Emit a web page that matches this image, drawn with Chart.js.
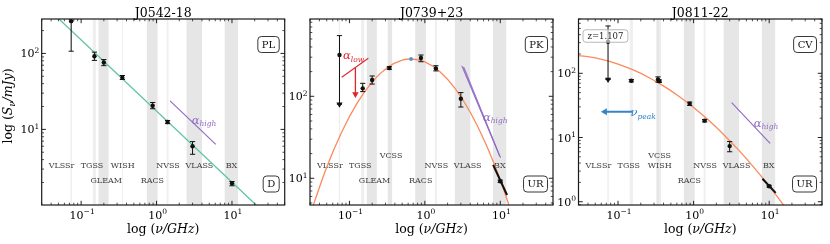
<!DOCTYPE html>
<html><head><meta charset="utf-8">
<script src="https://cdn.jsdelivr.net/npm/chart.js@4.4.1/dist/chart.umd.min.js"></script>
<style>
html,body{margin:0;padding:0;background:#fff;overflow:hidden;}
#wrap{position:relative;width:830px;height:244px;background:#fff;}
#wrap canvas{position:absolute;left:0;top:0;}
</style></head><body>
<div id="wrap">
<canvas id="c1" width="830" height="244"></canvas>
<canvas id="c2" width="830" height="244"></canvas>
<canvas id="c3" width="830" height="244"></canvas>
</div>
<script>
// ================= DATA =================
const xLimits = [0.03, 50];                       // GHz
const surveyNames  = ['VLSSr','TGSS','GLEAM','WISH','VCSS','RACS','NVSS','VLASS','BX'];
const surveyBandLo = [0.0721, 0.143, 0.17, 0.347, 0.322, 0.744, 1.36, 2.5, 8];
const surveyBandHi = [0.0755, 0.157, 0.231, 0.357, 0.368, 1.032, 1.44, 4.0, 12];
const surveyThin   = [true, true, false, true, false, false, true, false, false];

// ---- Panel 1: J0542-18 ----
const p1Title  = 'J0542-18';
const p1YLim   = [1.01, 284];
const p1Freq   = [0.0738, 0.15, 0.2, 0.352, 0.8875, 1.4, 3.0, 10.0];
const p1Flux   = [266, 92, 76, 48, 20.5, 12.5, 6.0, 1.95];
const p1ErrLo  = [107, 81, 69, 45.4, 18.7, 11.9, 4.7, 1.81];
const p1ErrHi  = [600, 104, 83, 51.2, 22.6, 13.1, 6.9, 2.06];
const p1FitFreq  = [0.0251, 56.2];
const p1FitFlux  = [550, 0.40];
const p1HighFreq = [1.51, 6.1];
const p1HighFlux = [23.7, 6.34];

// ---- Panel 2: J0739+23 ----
const p2Title  = 'J0739+23';
const p2YLim   = [4.72, 877];
const p2Freq   = [0.0738, 0.15, 0.2, 0.338, 0.8875, 1.4, 3.0, 10.0];
const p2Flux   = [319, 125, 158, 221, 293, 219, 93.5, 9.2];
const p2ErrLo  = [80, 114, 141, 213, 264, 204, 74, 8.9];
const p2ErrHi  = [550, 144, 177, 230, 319, 236, 111, 9.5];
const p2LimFreq = [0.0738];
const p2LimFlux = [80];
const p2PeakFreq = [0.656];
const p2PeakFlux = [285];
const p2FitFreq = [0.0282,0.0501,0.0794,0.1259,0.1995,0.3162,0.5012,0.656,1,1.585,2.512,3.981,6.31,10,15.85];
const p2FitFlux = [3.04,13.76,36.98,81.8,148.9,223.4,275.8,285.1,262.9,199.6,124.9,64.3,27.3,9.52,2.74];
const p2LowFreq = [0.079, 0.178];
const p2LowFlux = [171, 291];
const p2LowArrowFreq = [0.12, 0.12];
const p2LowArrowFlux = [223, 106];
const p2LowHeadFreq = [0.12];
const p2LowHeadFlux = [106];
const p2BxFreq  = [8.03, 12.3];
const p2BxFlux  = [14.6, 6.25];
const p2HighAFreq = [3.08, 9.8];
const p2HighAFlux = [236, 18.6];
const p2HighBFreq = [3.18, 9.94];
const p2HighBFlux = [231, 18.2];
const p2HighCFreq = [3.30, 10.1];
const p2HighCFlux = [226, 17.8];

// ---- Panel 3: J0811-22 ----
const p3Title  = 'J0811-22';
const p3YLim   = [0.889, 701];
const p3Freq   = [0.0738, 0.15, 0.338, 0.352, 0.8875, 1.4, 3.0, 10.0];
const p3Flux   = [310, 76.7, 80, 75.5, 33.6, 18.3, 7.35, 1.74];
const p3ErrLo  = [80, 73.5, 73, 72, 31.6, 17.5, 6.0, 1.68];
const p3ErrHi  = [546, 80, 88, 79, 35.7, 19.1, 8.65, 1.80];
const p3LimFreq = [0.0738];
const p3LimFlux = [80];
const p3FitFreq = [0.0251,0.0398,0.0631,0.1,0.1585,0.2512,0.3981,0.631,1,1.585,2.512,3.981,6.31,10,15.85,25.1];
const p3FitFlux = [192,181.6,163,139,112.7,86.9,63.7,44.4,29.4,18.5,11.07,6.30,3.40,1.75,0.855,0.397];
const p3BxFreq  = [8.15, 12.2];
const p3BxFlux  = [2.28, 1.37];
const p3HighFreq = [3.19, 10.3];
const p3HighFlux = [34.8, 8.07];
const p3PeakArrowFreq = [0.154, 0.07];
const p3PeakArrowFlux = [25.2, 25.2];
const p3PeakHeadFreq = [0.067];
const p3PeakHeadFlux = [25.2];
const p3Redshift = 'z=1.107';

// ================= STYLE / LAYOUT =================
const FONT = "'DejaVu Serif', 'Liberation Serif', serif";
const C_GREEN = '#5fc4a2', C_ORANGE = '#fb8a5c', C_PURPLE = '#8f68c4', C_RED = '#e0262b', C_BLUE = '#3584c6';
const labelGHz = {VLSSr:0.055, TGSS:0.139, GLEAM:0.215, WISH:0.356, VCSS:0.356, RACS:0.88, NVSS:1.42, VLASS:3.7, BX:9.85};
const rowY = [137.3, 147, 161.7];

const pts = (f, s) => f.map((v, i) => ({x: v, y: s[i]}));
const lineDs = (f, s, color, w, extra) => Object.assign({data: pts(f, s), showLine: true, borderColor: color, borderWidth: w, pointRadius: 0, fill: false}, extra || {});
const markDs = (f, s, color, r, style, rot) => ({data: pts(f, s), showLine: false, pointRadius: r, pointStyle: style || 'circle', pointRotation: rot || 0, pointBackgroundColor: color, pointBorderColor: color, pointBorderWidth: 0});

function rich(ctx, parts, x, y, align, color) {
  let w = 0;
  for (const p of parts) { ctx.font = (p.it ? 'italic ' : '') + p.px + 'px ' + FONT; p._w = ctx.measureText(p.t).width; w += p._w; }
  let cx = align === 'center' ? x - w / 2 : (align === 'right' ? x - w : x);
  ctx.textAlign = 'left'; ctx.textBaseline = 'alphabetic';
  for (const p of parts) {
    ctx.font = (p.it ? 'italic ' : '') + p.px + 'px ' + FONT;
    ctx.fillStyle = p.c || color || '#000';
    ctx.fillText(p.t, cx, y + (p.dy || 0));
    cx += p._w;
  }
  return w;
}
function rrect(ctx, x, y, w, h, r) {
  ctx.beginPath();
  ctx.moveTo(x + r, y); ctx.lineTo(x + w - r, y); ctx.quadraticCurveTo(x + w, y, x + w, y + r);
  ctx.lineTo(x + w, y + h - r); ctx.quadraticCurveTo(x + w, y + h, x + w - r, y + h);
  ctx.lineTo(x + r, y + h); ctx.quadraticCurveTo(x, y + h, x, y + h - r);
  ctx.lineTo(x, y + r); ctx.quadraticCurveTo(x, y, x + r, y); ctx.closePath();
}
function logTicks(min, max) {
  const out = [];
  for (let k = Math.floor(Math.log10(min)); k <= Math.ceil(Math.log10(max)); k++)
    for (let m = 1; m < 10; m++) {
      const v = m * Math.pow(10, k);
      if (v >= min * 0.9999 && v <= max * 1.0001) out.push({v, major: m === 1, k});
    }
  return out;
}
const expStr = k => (k < 0 ? '\u2212' + (-k) : String(k));

function panelPlugin(cfg) {
  return {
    id: 'panel_' + cfg.name,
    beforeDatasetsDraw(chart) {
      const {ctx, chartArea: a, scales: {x}} = chart;
      ctx.save();
      ctx.beginPath(); ctx.rect(a.left, a.top, a.right - a.left, a.bottom - a.top); ctx.clip();
      cfg.bands.forEach(n => {
        const i = surveyNames.indexOf(n);
        const x0 = x.getPixelForValue(surveyBandLo[i]), x1 = x.getPixelForValue(surveyBandHi[i]);
        ctx.fillStyle = surveyThin[i] ? '#efefef' : '#e6e6e6';
        ctx.fillRect(x0, a.top, x1 - x0, a.bottom - a.top);
      });
      ctx.fillStyle = '#404040'; ctx.font = '8px ' + FONT; ctx.textAlign = 'center'; ctx.textBaseline = 'middle';
      Object.keys(cfg.rows).forEach(n => {
        ctx.fillText(n, x.getPixelForValue(labelGHz[n]), a.top + rowY[cfg.rows[n]]);
      });
      ctx.restore();
    },
    afterDatasetsDraw(chart) {
      const {ctx, chartArea: a, scales: {x, y}} = chart;
      ctx.save();
      ctx.beginPath(); ctx.rect(a.left, a.top, a.right - a.left, a.bottom - a.top); ctx.clip();
      // error bars
      ctx.strokeStyle = '#111'; ctx.lineWidth = 1;
      cfg.err.f.forEach((f, i) => {
        const px = x.getPixelForValue(f), y0 = y.getPixelForValue(cfg.err.lo[i]), y1 = y.getPixelForValue(cfg.err.hi[i]);
        ctx.beginPath();
        ctx.moveTo(px, y0); ctx.lineTo(px, y1);
        ctx.moveTo(px - 2.6, y0); ctx.lineTo(px + 2.6, y0);
        ctx.moveTo(px - 2.6, y1); ctx.lineTo(px + 2.6, y1);
        ctx.stroke();
      });
      // annotation texts
      (cfg.texts || []).forEach(t => {
        rich(ctx, t.parts, x.getPixelForValue(t.f), y.getPixelForValue(t.s), 'left', t.c);
      });
      ctx.restore();
      ctx.save();
      // boxes
      ctx.lineWidth = 0.9;
      cfg.boxes.forEach(b => {
        ctx.font = '10px ' + FONT;
        const w = ctx.measureText(b.t).width + 8, h = 16;
        const bx = a.right - 5.5 - w, cy = b.pos === 'top' ? a.top + 25.5 : a.bottom - 21;
        rrect(ctx, bx, cy - h / 2, w, h, 3.5);
        ctx.fillStyle = 'rgba(255,255,255,0.9)'; ctx.fill();
        ctx.strokeStyle = '#222'; ctx.stroke();
        ctx.fillStyle = '#111'; ctx.textAlign = 'center'; ctx.textBaseline = 'middle';
        ctx.fillText(b.t, bx + w / 2, cy + 0.5);
      });
      if (cfg.zbox) {
        ctx.font = '8.5px ' + FONT;
        const w = ctx.measureText(cfg.zbox).width + 9, h = 12.5;
        const bx = a.left + 4.5, cy = a.top + 17;
        rrect(ctx, bx, cy - h / 2, w, h, 3);
        ctx.fillStyle = 'rgba(255,255,255,0.6)'; ctx.fill();
        ctx.strokeStyle = '#b0b0b0'; ctx.stroke();
        ctx.fillStyle = '#222'; ctx.textAlign = 'center'; ctx.textBaseline = 'middle';
        ctx.fillText(cfg.zbox, bx + w / 2, cy + 0.5);
      }
      ctx.restore();
    },
    afterDraw(chart) {
      const {ctx, chartArea: a, scales: {x, y}} = chart;
      ctx.save();
      ctx.strokeStyle = '#222';
      // x ticks (bottom & top, inward)
      logTicks(x.min, x.max).forEach(t => {
        const px = x.getPixelForValue(t.v), L = t.major ? 4.2 : 2.3;
        ctx.lineWidth = t.major ? 1 : 0.8;
        ctx.beginPath();
        ctx.moveTo(px, a.bottom); ctx.lineTo(px, a.bottom - L);
        ctx.moveTo(px, a.top); ctx.lineTo(px, a.top + L);
        ctx.stroke();
        if (t.major) rich(ctx, [{t: '10', px: 11}, {t: expStr(t.k), px: 7.5, dy: -4.6}], px + 1, a.bottom + 13.6, 'center');
      });
      logTicks(y.min, y.max).forEach(t => {
        const py = y.getPixelForValue(t.v), L = t.major ? 4.2 : 2.3;
        ctx.lineWidth = t.major ? 1 : 0.8;
        ctx.beginPath();
        ctx.moveTo(a.left, py); ctx.lineTo(a.left + L, py);
        ctx.moveTo(a.right, py); ctx.lineTo(a.right - L, py);
        ctx.stroke();
        if (t.major) rich(ctx, [{t: '10', px: 11}, {t: expStr(t.k), px: 7.5, dy: -4.6}], a.left - 2.5, py + 4, 'right');
      });
      // frame
      ctx.lineWidth = 1.2; ctx.strokeStyle = '#1a1a1a';
      ctx.strokeRect(a.left, a.top, a.right - a.left, a.bottom - a.top);
      // title
      rich(ctx, [{t: cfg.title, px: 12.5}], (a.left + a.right) / 2, 16.5, 'center');
      // x label
      rich(ctx, [{t: 'log (', px: 12.5}, {t: '\u03bd/GHz', px: 12.5, it: true}, {t: ')', px: 12.5}], (a.left + a.right) / 2, a.bottom + 28, 'center');
      if (cfg.ylabel) {
        ctx.translate(12.3, 106); ctx.rotate(-Math.PI / 2);
        rich(ctx, [{t: 'log (', px: 12.5}, {t: 'S', px: 12.5, it: true}, {t: '\u03bd', px: 8.5, it: true, dy: 2.5}, {t: '/mJy', px: 12.5, it: true}, {t: ')', px: 12.5}], 0, 0, 'center');
      }
      ctx.restore();
    }
  };
}

function makeChart(id, left, right, yLim, datasets, cfg) {
  return new Chart(document.getElementById(id), {
    type: 'scatter',
    data: {datasets},
    options: {
      responsive: false, animation: false, devicePixelRatio: 1, events: [],
      layout: {padding: {left: left, right: 830 - right, top: 19, bottom: 244 - 205}},
      plugins: {legend: {display: false}, tooltip: {enabled: false}},
      scales: {
        x: {type: 'logarithmic', min: xLimits[0], max: xLimits[1], display: false},
        y: {type: 'logarithmic', min: yLim[0], max: yLim[1], display: false}
      }
    },
    plugins: [panelPlugin(cfg)]
  });
}

// ---- Panel 1 ----
makeChart('c1', 41.7, 284.7, p1YLim, [
  markDs(p1Freq, p1Flux, '#111', 2.2),
  lineDs(p1HighFreq, p1HighFlux, C_PURPLE, 1.1),
  lineDs(p1FitFreq, p1FitFlux, C_GREEN, 1.3)
], {
  name: 'p1', title: p1Title, ylabel: true,
  bands: ['VLSSr','TGSS','GLEAM','WISH','RACS','NVSS','VLASS','BX'],
  rows: {VLSSr: 1, TGSS: 1, WISH: 1, NVSS: 1, VLASS: 1, BX: 1, GLEAM: 2, RACS: 2},
  err: {f: p1Freq, lo: p1ErrLo, hi: p1ErrHi},
  texts: [{f: 2.92, s: 11.8, c: C_PURPLE, parts: [{t: '\u03b1', px: 11.5, it: true}, {t: 'high', px: 7.5, it: true, dy: 2.5}]}],
  boxes: [{t: 'PL', pos: 'top'}, {t: 'D', pos: 'bottom'}]
});

// ---- Panel 2 ----
makeChart('c2', 310, 553, p2YLim, [
  markDs(p2Freq, p2Flux, '#111', 2.2),
  markDs(p2PeakFreq, p2PeakFlux, '#4a98d6', 1.9),
  markDs(p2LimFreq, p2LimFlux, '#111', 3.6, 'triangle', 180),
  markDs(p2LowHeadFreq, p2LowHeadFlux, C_RED, 3.8, 'triangle', 180),
  lineDs(p2LowArrowFreq, p2LowArrowFlux, C_RED, 1.3),
  lineDs(p2LowFreq, p2LowFlux, C_RED, 1.1),
  lineDs(p2BxFreq, p2BxFlux, '#111', 2.0),
  lineDs(p2HighAFreq, p2HighAFlux, C_PURPLE, 0.9),
  lineDs(p2HighBFreq, p2HighBFlux, C_PURPLE, 0.9),
  lineDs(p2HighCFreq, p2HighCFlux, C_PURPLE, 0.9),
  lineDs(p2FitFreq, p2FitFlux, C_ORANGE, 1.3, {cubicInterpolationMode: 'monotone'})
], {
  name: 'p2', title: p2Title,
  bands: ['VLSSr','TGSS','GLEAM','VCSS','RACS','NVSS','VLASS','BX'],
  rows: {VLSSr: 1, TGSS: 1, VCSS: 0, NVSS: 1, VLASS: 1, BX: 1, GLEAM: 2, RACS: 2},
  err: {f: p2Freq, lo: p2ErrLo, hi: p2ErrHi},
  texts: [
    {f: 0.0822, s: 285, c: C_RED, parts: [{t: '\u03b1', px: 11.5, it: true}, {t: 'low', px: 7.5, it: true, dy: 2.5}]},
    {f: 5.9, s: 50, c: C_PURPLE, parts: [{t: '\u03b1', px: 11.5, it: true}, {t: 'high', px: 7.5, it: true, dy: 2.5}]}
  ],
  boxes: [{t: 'PK', pos: 'top'}, {t: 'UR', pos: 'bottom'}]
});

// ---- Panel 3 ----
makeChart('c3', 578.5, 822, p3YLim, [
  markDs(p3Freq, p3Flux, '#111', 2.2),
  markDs(p3LimFreq, p3LimFlux, '#111', 3.6, 'triangle', 180),
  markDs(p3PeakHeadFreq, p3PeakHeadFlux, C_BLUE, 4, 'triangle', 270),
  lineDs(p3PeakArrowFreq, p3PeakArrowFlux, C_BLUE, 2),
  lineDs(p3BxFreq, p3BxFlux, '#111', 2.0),
  lineDs(p3HighFreq, p3HighFlux, C_PURPLE, 1.1),
  lineDs(p3FitFreq, p3FitFlux, C_ORANGE, 1.3, {cubicInterpolationMode: 'monotone'})
], {
  name: 'p3', title: p3Title,
  bands: ['VLSSr','TGSS','VCSS','WISH','RACS','NVSS','VLASS','BX'],
  rows: {VLSSr: 1, TGSS: 1, VCSS: 0, WISH: 1, NVSS: 1, VLASS: 1, BX: 1, RACS: 2},
  err: {f: p3Freq, lo: p3ErrLo, hi: p3ErrHi},
  texts: [
    {f: 0.146, s: 21.6, c: C_BLUE, parts: [{t: '\u03bd', px: 11.5, it: true}, {t: 'peak', px: 7.5, it: true, dy: 2.5}]},
    {f: 6.25, s: 14.7, c: C_PURPLE, parts: [{t: '\u03b1', px: 11.5, it: true}, {t: 'high', px: 7.5, it: true, dy: 2.5}]}
  ],
  boxes: [{t: 'CV', pos: 'top'}, {t: 'UR', pos: 'bottom'}],
  zbox: p3Redshift
});
</script>
</body></html>
